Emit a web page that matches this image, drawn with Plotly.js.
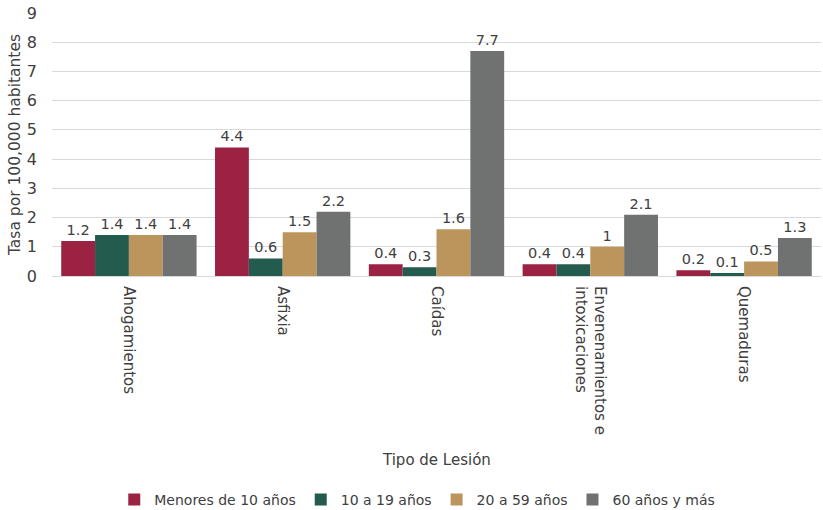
<!DOCTYPE html>
<html><head><meta charset="utf-8">
<script src="https://cdn.plot.ly/plotly-3.0.1.min.js"></script>
<style>html,body{margin:0;padding:0;background:#fff}#c{width:823px;height:510px}</style>
</head><body><div id="c"></div>
<script>
const categories = ["Ahogamientos", "Asfixia", "Caídas", "Envenenamientos e<br>intoxicaciones", "Quemaduras"];
const seriesNames = ["Menores de 10 años", "10 a 19 años", "20 a 59 años", "60 años y más"];
const menores10 = [1.2, 4.4, 0.4, 0.4, 0.2];
const de10a19 = [1.4, 0.6, 0.3, 0.4, 0.1];
const de20a59 = [1.4, 1.5, 1.6, 1.0, 0.5];
const mas60 = [1.4, 2.2, 7.7, 2.1, 1.3];
const colors = ["#9B2242", "#235B4E", "#BC955C", "#6F7271"];
const values = [menores10, de10a19, de20a59, mas60];
const font = "'DejaVu Sans', Verdana, sans-serif";
const txt = "#404040";
const traces = values.map((v, i) => ({
  type: "bar", name: seriesNames[i], x: categories, y: v,
  marker: {color: colors[i]},
  text: v.map(String), textposition: "outside", cliponaxis: false,
  textfont: {family: font, size: 14.5, color: txt}
}));
const layout = {
  width: 823, height: 510,
  margin: {l: 52, r: 2, t: 13, b: 234, autoexpand: false},
  paper_bgcolor: "#fff", plot_bgcolor: "#fff",
  font: {family: font, color: txt, size: 14},
  barmode: "group", bargap: 0.12, bargroupgap: 0,
  xaxis: {tickangle: 90, showline: true, linecolor: "#d9d9d9", ticks: "",
    ticklabelstandoff: 6, automargin: false,
    tickfont: {size: 15, color: txt}},
  yaxis: {range: [0, 9], dtick: 1, gridcolor: "#d9d9d9", zeroline: false, automargin: false,
    tickfont: {size: 16, color: txt}, ticks: "", ticklabelstandoff: 14,
    title: {text: "Tasa por 100,000 habitantes", font: {size: 15.5, color: txt}, standoff: 2}},
  annotations: [{text: "Tipo de Lesión", xref: "paper", yref: "paper", x: 0.5, y: (276 - 460) / 263,
    xanchor: "center", yanchor: "middle", showarrow: false, font: {size: 15, color: txt}}],
  legend: {orientation: "h", x: 0.475, xanchor: "center", y: (276 - 500) / 263, yanchor: "middle",
    font: {size: 14, color: txt}, traceorder: "normal", itemwidth: 30},
  showlegend: true
};
Plotly.newPlot("c", traces, layout, {displayModeBar: false});
</script></body></html>
